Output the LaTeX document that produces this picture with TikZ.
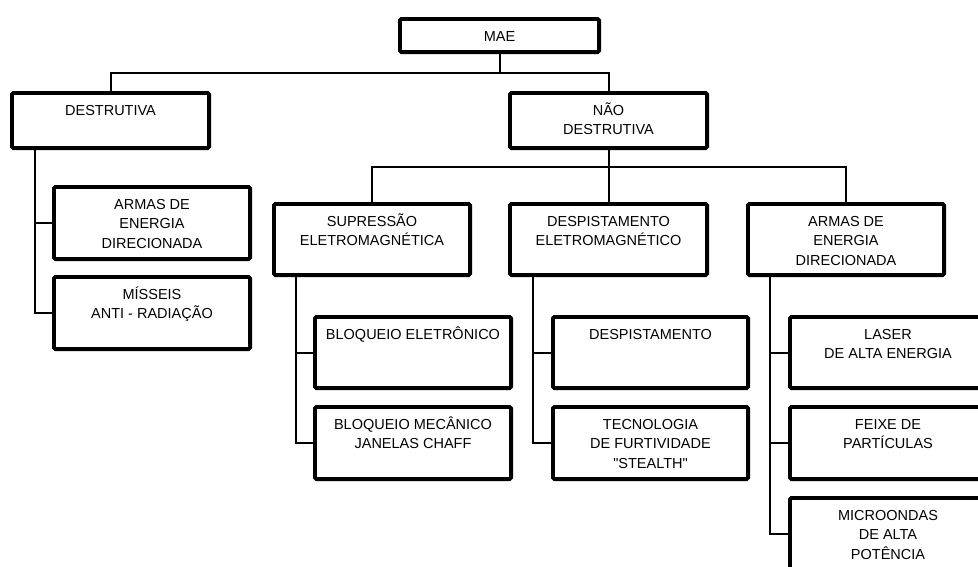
\documentclass[tikz,border=0pt]{standalone}
\usepackage{fontspec}
\setmainfont{Liberation Sans}[Ligatures=TeXOff]
\usepackage{array}
\tikzset{
  boxsty/.style={draw, line width=3.8pt, rounded corners=1.5pt, inner sep=0pt, outer sep=0pt},
  lbl/.style={inner sep=0pt, font=\fontsize{14.5}{19.5}\selectfont},
  link/.style={line width=2pt},
}
% name, x1, x2, y1, y2, text
\newcommand\mybox[6]{%
  \node[boxsty, minimum width={(#3-#2)*1pt-3.8pt}, minimum height={(#5-#4)*1pt-3.8pt}] (#1) at ({(#2+#3)/2},{(#4+#5)/2}) {};
  \node[lbl, anchor=base] (#1-t) at ([yshift=-22.1pt]#1.north) {\setlength\tabcolsep{0pt}\renewcommand\arraystretch{1}\begin{tabular}[t]{c}#6\end{tabular}};
}
\begin{document}
\begin{tikzpicture}[x=1pt,y=-1pt]
  \useasboundingbox (0,0) rectangle (978,566);
  \clip (0,0) rectangle (978,566);
  \fill[white] (0,0) rectangle (978,566);

  \mybox{mae}{398}{601}{17}{54}{MAE}
  \mybox{dest}{10}{211}{91}{150}{DESTRUTIVA}
  \mybox{nao}{508}{709}{91}{150}{NÃO\\DESTRUTIVA}
  \mybox{armL}{52}{252}{185}{261}{ARMAS DE\\ENERGIA\\DIRECIONADA}
  \mybox{mis}{52}{252}{275}{351}{MÍSSEIS\\ANTI - RADIAÇÃO}
  \mybox{sup}{272}{472}{202}{277}{SUPRESSÃO\\ELETROMAGNÉTICA}
  \mybox{desp}{508}{709}{202}{277}{DESPISTAMENTO\\ELETROMAGNÉTICO}
  \mybox{armR}{746}{946}{202}{277}{ARMAS DE\\ENERGIA\\DIRECIONADA}
  \mybox{be}{313}{513}{315}{390}{BLOQUEIO ELETRÔNICO}
  \mybox{bm}{313}{513}{405}{481}{BLOQUEIO MECÂNICO\\JANELAS CHAFF}
  \mybox{dsp}{551}{750}{315}{390}{DESPISTAMENTO}
  \mybox{tec}{551}{750}{405}{481}{TECNOLOGIA\\DE FURTIVIDADE\\"STEALTH"}
  \mybox{las}{788}{988}{315}{390}{LASER\\DE ALTA ENERGIA}
  \mybox{fei}{788}{988}{405}{481}{FEIXE DE\\PARTÍCULAS}
  \mybox{mic}{788}{988}{496}{572}{MICROONDAS\\DE ALTA\\POTÊNCIA}

  \coordinate (j0) at (0,73);
  \coordinate (j1) at (0,167);
  \coordinate (xl) at (35,0);
  \coordinate (xs) at (296,0);
  \coordinate (xd) at (533,0);
  \coordinate (xa) at (770,0);

  \draw[link] (mae.south) -- (mae.south |- j0);
  \draw[link] (dest.north) |- (nao.north |- j0) -- (nao.north);
  \draw[link] (nao.south) -- (nao.south |- j1);
  \draw[link] (sup.north) |- (armR.north |- j1) -- (armR.north);
  \draw[link] (desp.north) -- (desp.north |- j1);

  \draw[link] (dest.south -| xl) |- (armL.west);
  \draw[link] (dest.south -| xl) |- (mis.west);
  \draw[link] (sup.south -| xs) |- (be.west);
  \draw[link] (sup.south -| xs) |- (bm.west);
  \draw[link] (desp.south -| xd) |- (dsp.west);
  \draw[link] (desp.south -| xd) |- (tec.west);
  \draw[link] (armR.south -| xa) |- (las.west);
  \draw[link] (armR.south -| xa) |- (fei.west);
  \draw[link] (armR.south -| xa) |- (mic.west);
\end{tikzpicture}
\end{document}
